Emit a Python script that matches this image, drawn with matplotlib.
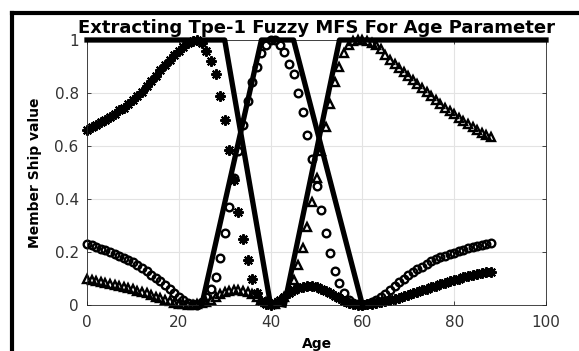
import numpy as np
import matplotlib
matplotlib.use('Agg')
import matplotlib.pyplot as plt
from matplotlib.lines import Line2D

# sample ages for the extracted MFs
age = np.arange(0, 89)

# star markers (young-like curve)
mf_star = [0.66, 0.67, 0.68, 0.69, 0.70, 0.71, 0.72, 0.735, 0.745, 0.76, 0.775, 0.79, 0.805,
           0.825, 0.845, 0.865, 0.885, 0.905, 0.925, 0.945, 0.96, 0.975, 0.99, 0.998, 1.0,
           0.99, 0.96, 0.92, 0.87, 0.79, 0.70, 0.585, 0.47, 0.35, 0.25, 0.17, 0.10, 0.045, 0.015, 0.003,
           0.0, 0.008, 0.02, 0.032, 0.044, 0.055, 0.063, 0.069, 0.072, 0.071, 0.067, 0.061, 0.053,
           0.044, 0.035, 0.025, 0.016, 0.008, 0.003, 0.0,
           0.0, 0.002, 0.005, 0.008, 0.012, 0.015, 0.019, 0.023, 0.027, 0.033, 0.039, 0.045, 0.05,
           0.056, 0.062, 0.067, 0.073, 0.078, 0.084, 0.089, 0.094, 0.099, 0.104, 0.108, 0.112,
           0.116, 0.12, 0.123, 0.126]

# circle markers (middle-like curve)
mf_circle = [0.23, 0.225, 0.219, 0.213, 0.207, 0.2, 0.193, 0.186, 0.178, 0.17, 0.161, 0.151, 0.14,
             0.128, 0.115, 0.102, 0.09, 0.075, 0.06, 0.045, 0.03, 0.018, 0.008, 0.002, 0.0,
             0.01, 0.03, 0.06, 0.105, 0.177, 0.27, 0.37, 0.48, 0.58, 0.68, 0.77, 0.84, 0.90, 0.95, 0.98,
             1.0, 1.0, 0.98, 0.955, 0.91, 0.87, 0.80, 0.73, 0.64, 0.55, 0.45, 0.36, 0.27, 0.196,
             0.13, 0.083, 0.045, 0.02, 0.008, 0.002,
             0.0, 0.005, 0.012, 0.02, 0.03, 0.04, 0.055, 0.07, 0.085, 0.1, 0.115, 0.125, 0.135,
             0.145, 0.155, 0.165, 0.172, 0.18, 0.186, 0.192, 0.198, 0.204, 0.209, 0.214, 0.219,
             0.223, 0.227, 0.231, 0.234]

# triangle markers (old-like curve)
mf_tri = [0.10, 0.096, 0.092, 0.088, 0.084, 0.08, 0.076, 0.072, 0.068, 0.064, 0.059, 0.054, 0.049,
          0.044, 0.038, 0.032, 0.026, 0.02, 0.014, 0.009, 0.005, 0.002, 0.0, 0.0, 0.002,
          0.006, 0.012, 0.02, 0.03, 0.04, 0.048, 0.054, 0.057, 0.057, 0.054, 0.048, 0.04, 0.03, 0.02, 0.01,
          0.004, 0.002, 0.01, 0.03, 0.06, 0.094, 0.15, 0.215, 0.294, 0.39, 0.48, 0.58, 0.67, 0.76,
          0.84, 0.90, 0.95, 0.98, 0.995, 1.0,
          1.0, 0.998, 0.99, 0.98, 0.965, 0.945, 0.925, 0.91, 0.895, 0.88, 0.865, 0.85, 0.835,
          0.82, 0.805, 0.79, 0.775, 0.76, 0.745, 0.732, 0.72, 0.707, 0.695, 0.683, 0.672,
          0.661, 0.65, 0.641, 0.633]

# type-1 trapezoid MFs (break points)
young_x = [0, 30, 40]
young_y = [1, 1, 0]
middle_x = [25, 38, 45, 60]
middle_y = [0, 1, 1, 0]
old_x = [43, 55, 100]
old_y = [0, 1, 1]

fig = plt.figure(figsize=(5.79, 3.51), dpi=100)
ax = fig.add_axes([87/579, 46/351, 459/579, 265/351])

for xs, ys in [(young_x, young_y), (middle_x, middle_y), (old_x, old_y)]:
    ax.plot(xs, ys, color='black', lw=3.8, clip_on=False, zorder=3)

ax.plot(age, mf_star, ls='none', marker=(8, 2, 0), ms=7.5, mew=1.5, color='black', clip_on=False)
ax.plot(age, mf_circle, ls='none', marker='o', ms=5.5, mew=1.7, mfc='none', color='black', clip_on=False)
ax.plot(age, mf_tri, ls='none', marker='^', ms=5.5, mew=1.7, mfc='none', color='black', clip_on=False)

ax.set_xlim(0, 100)
ax.set_ylim(0, 1)
ax.set_xticks([0, 20, 40, 60, 80, 100])
ax.set_yticks([0, 0.2, 0.4, 0.6, 0.8, 1])
ax.set_yticklabels(['0', '0.2', '0.4', '0.6', '0.8', '1'])
ax.grid(True, color='#e3e3e3', lw=0.8)
ax.set_axisbelow(True)
ax.tick_params(direction='in', length=3, width=0.6, color='#262626', labelcolor='#333333',
               labelsize=11, top=True, right=True)
ax.tick_params(axis='y', pad=6)
ax.tick_params(axis='x', pad=7)
for s in ax.spines.values():
    s.set_color('#262626')
    s.set_linewidth(0.6)

ax.set_title('Extracting Tpe-1 Fuzzy MFS For Age Parameter', fontsize=13, fontweight='bold', pad=5)
ax.set_xlabel('Age', fontsize=10, fontweight='bold', labelpad=5)
ax.set_ylabel('Member Ship value', fontsize=10, fontweight='bold', labelpad=9)

# thick figure frame (left and top edges visible)
fig.add_artist(Line2D([12/579, 12/579], [0, 1 - 13/351], color='black', lw=3, transform=fig.transFigure))
fig.add_artist(Line2D([12/579, 1], [1 - 13/351, 1 - 13/351], color='black', lw=3, transform=fig.transFigure))

fig.savefig('out.png', dpi=100)
